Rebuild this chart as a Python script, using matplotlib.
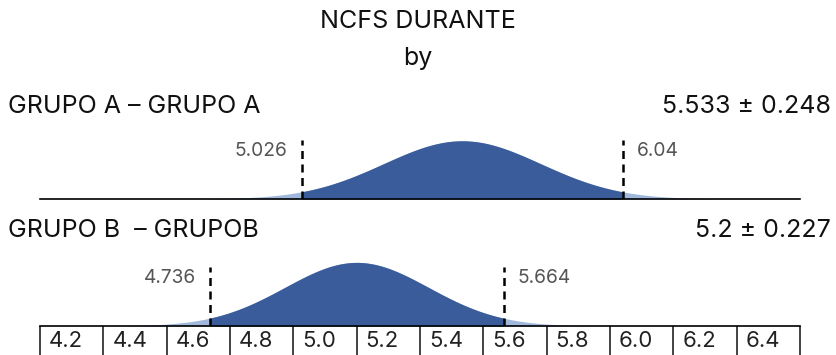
import numpy as np
import matplotlib
matplotlib.use("Agg")
import matplotlib.pyplot as plt
import matplotlib.transforms as mtransforms

plt.rcParams['font.family'] = ['Inter', 'DejaVu Sans']

# data
title = "NCFS DURANTE\nby"
groups = ["GRUPO A – GRUPO A", "GRUPO B  – GRUPOB"]
means = [5.533, 5.2]
sds = [0.248, 0.227]
ci_low = [5.026, 4.736]
ci_high = [6.04, 5.664]
tick_vals = [4.2, 4.4, 4.6, 4.8, 5.0, 5.2, 5.4, 5.6, 5.8, 6.0, 6.2, 6.4, 6.6]
tick_labels = ["4.2", "4.4", "4.6", "4.8", "5.0", "5.2", "5.4", "5.6", "5.8", "6.0", "6.2", "6.4"]

W, H = 837, 355
dark = "#3a5c9b"
light = "#9fb8dc"

fig = plt.figure(figsize=(W / 100, H / 100), dpi=100)

def fx(px):
    return px / W

def fy(py):
    return 1 - py / H

xmin, xmax = 4.2, 6.6
ymax = 2.2
ax_h = ymax * 36.2  # px per density unit
baselines = [199, 326]

x = np.linspace(xmin, xmax, 600)
axes = []
for i in range(2):
    b = baselines[i]
    ax = fig.add_axes([fx(40), fy(b), fx(800) - fx(40), ax_h / H])
    ax.set_xlim(xmin, xmax)
    ax.set_ylim(0, ymax)
    for s in ["top", "right", "left"]:
        ax.spines[s].set_visible(False)
    ax.spines["bottom"].set_linewidth(1.2)
    ax.set_yticks([])
    ax.patch.set_alpha(0)

    y = np.exp(-0.5 * ((x - means[i]) / sds[i]) ** 2) / (sds[i] * np.sqrt(2 * np.pi))
    ax.fill_between(x, 0, y, color=light, lw=0)
    inside = (x >= ci_low[i]) & (x <= ci_high[i])
    xi = np.concatenate([[ci_low[i]], x[inside], [ci_high[i]]])
    yi = np.exp(-0.5 * ((xi - means[i]) / sds[i]) ** 2) / (sds[i] * np.sqrt(2 * np.pi))
    ax.fill_between(xi, 0, yi, color=dark, lw=0)

    for v in (ci_low[i], ci_high[i]):
        ax.axvline(v, ymin=0, ymax=0.74, color="black", lw=1.8, ls=(0, (3.2, 2.2)))
    off_l = mtransforms.offset_copy(ax.transData, fig=fig, x=-14, y=0, units="dots")
    off_r = mtransforms.offset_copy(ax.transData, fig=fig, x=14, y=0, units="dots")
    ax.text(ci_low[i], 1.33, f"{ci_low[i]:g}", transform=off_l, ha="right", va="center",
            fontsize=13.8, color="#555555")
    ax.text(ci_high[i], 1.33, f"{ci_high[i]:g}", transform=off_r, ha="left", va="center",
            fontsize=13.8, color="#555555")
    axes.append(ax)

# top axis: no ticks
axes[0].set_xticks([])

# bottom axis: boxed tick row
axb = axes[1]
axb.set_xticks(tick_vals)
axb.set_xticklabels([])
axb.tick_params(axis="x", direction="out", length=32, width=1.2, color="#222222")
lab_tr = mtransforms.offset_copy(axb.get_xaxis_transform(), fig=fig, x=9, y=-21, units="dots")
for v, lab in zip(tick_vals, tick_labels):
    axb.text(v, 0, lab, transform=lab_tr, ha="left", va="baseline", fontsize=16, color="#222222",
             clip_on=False)

# headers
fs = 18
fig.text(fx(418), fy(28), "NCFS DURANTE", ha="center", va="baseline", fontsize=fs, color="#111111")
fig.text(fx(418), fy(65), "by", ha="center", va="baseline", fontsize=fs, color="#111111")
header_y = [113, 237]
for i in range(2):
    fig.text(fx(8), fy(header_y[i]), groups[i], ha="left", va="baseline", fontsize=fs, color="#111111")
    fig.text(fx(831), fy(header_y[i]), f"{means[i]:g} ± {sds[i]:g}", ha="right", va="baseline",
             fontsize=fs, color="#111111")

fig.savefig("out.png", dpi=100)
